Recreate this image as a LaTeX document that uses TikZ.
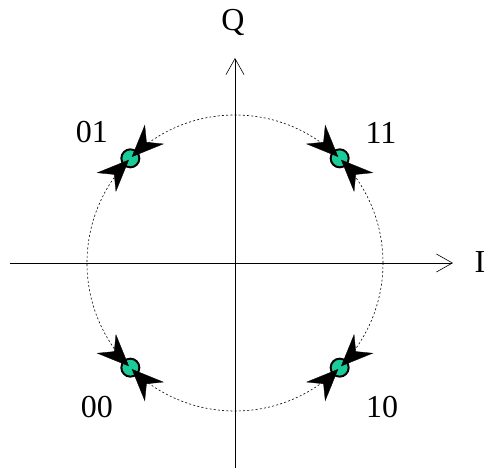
\documentclass[tikz,border=0pt]{standalone}
\usepackage{fontspec}
\setmainfont{Liberation Serif}
\usetikzlibrary{arrows.meta}
\definecolor{symgreen}{RGB}{26,204,153}

\begin{document}
\begin{tikzpicture}[x=1pt, y=1pt, >=Stealth,
  axis/.style={line width=0.6pt, -{Straight Barb[length=16pt, width=18pt, line width=0.6pt]}},
  ring/.style={line width=0.6pt, dash pattern=on 2pt off 2.2pt},
  sym/.style={circle, draw, line width=2pt, fill=symgreen, minimum size=18pt, inner sep=0pt},
  pull/.style={line width=0.3pt, -{Stealth[length=32pt, width=27pt, inset=11pt]}},
  lbl/.style={font=\fontsize{32}{36}\selectfont}]
  \useasboundingbox (-235,-207) rectangle (251,263);
  \def\R{148}

  % --- axes ---
  \coordinate (xl) at (-225,0);
  \coordinate (xr) at (218,0);
  \coordinate (yb) at (0,-205);
  \coordinate (yt) at (0,205);
  \draw[axis] (xl) -- (xr);
  \draw[axis] (yb) -- (yt);
  \node[lbl] (qlab) at (-2,240) {Q};
  \node[lbl] (ilab) at (245,1) {I};

  % --- dotted circle ---
  \draw[ring] (0,0) circle (\R);

  % --- symbols, two tips each ---
  \foreach \a/\n/\t in {45/11/135, 135/01/225, 225/00/315, 315/10/45} {
    \node[sym] (p\n) at (\a:\R) {};
    \draw[pull] ([shift={(\t:23)}]p\n.center) -- ([shift={(\t:2)}]p\n.center);
    \draw[pull] ([shift={(\a-90:23)}]p\n.center) -- ([shift={(\a-90:2)}]p\n.center);
  }

  % --- bit labels ---
  \node[lbl] (l01) at (-143,131) {01};
  \node[lbl] (l11) at (146,130) {11};
  \node[lbl] (l00) at (-138,-144) {00};
  \node[lbl] (l10) at (147,-144) {10};
\end{tikzpicture}
\end{document}
